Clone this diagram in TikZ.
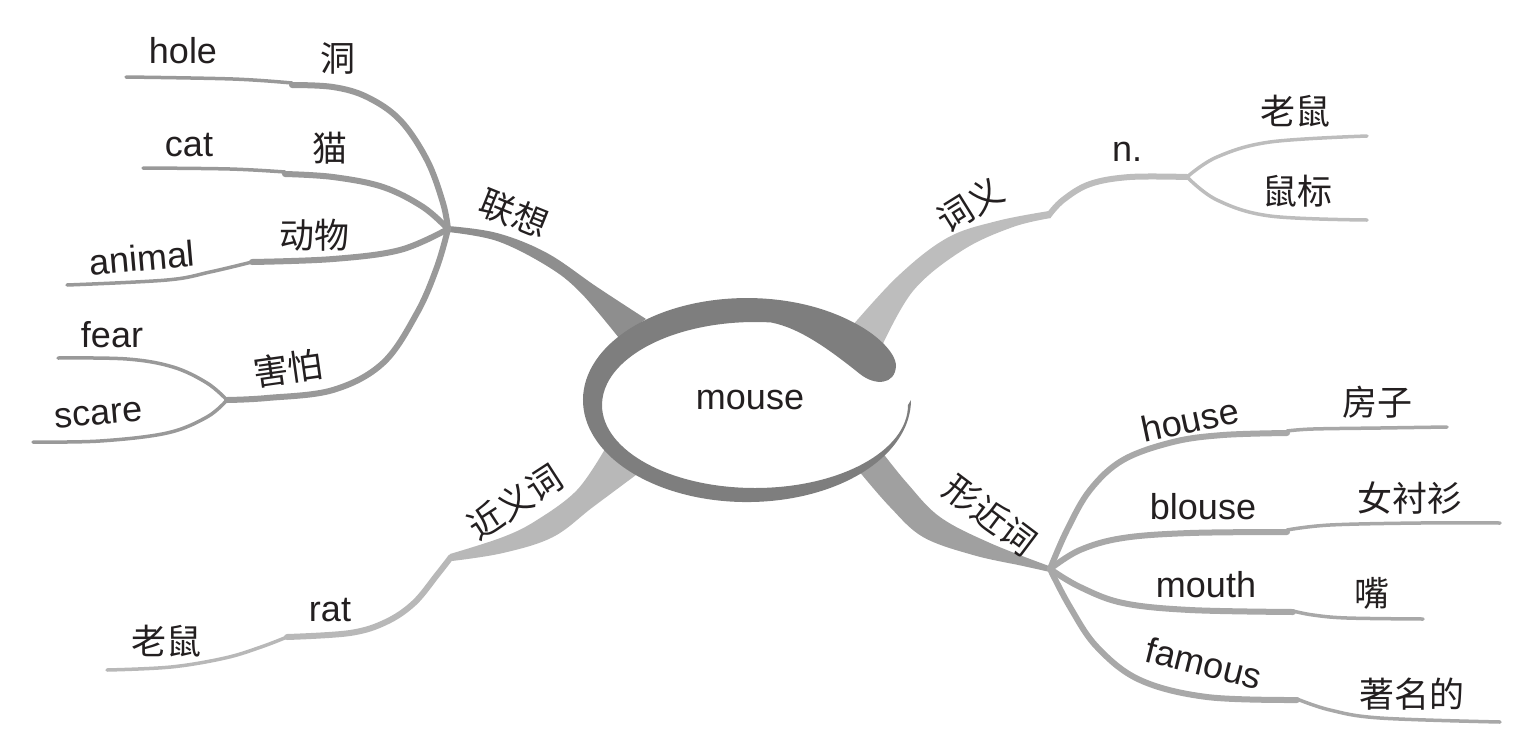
\documentclass[tikz,border=0pt]{standalone}
\usepackage{fontspec}
\setmainfont{Liberation Sans}
\newfontfamily\cjk{Noto Sans CJK SC}
\definecolor{ink}{HTML}{231F20}
\definecolor{ringc}{HTML}{7E7E7E}
\definecolor{colL}{HTML}{8E8E8E}
\definecolor{colLt}{HTML}{999999}
\definecolor{colR}{HTML}{BDBDBD}
\definecolor{colS}{HTML}{B8B8B8}
\definecolor{colX}{HTML}{A0A0A0}
\definecolor{colXt}{HTML}{A8A8A8}
\begin{document}
\begin{tikzpicture}[x=1pt,y=-1pt,
  en/.style={font=\fontsize{36}{40}\selectfont, text=ink, inner sep=0pt},
  zh/.style={font=\cjk\fontsize{35}{40}\selectfont, text=ink, inner sep=0pt},
  twig/.style={draw=#1, line width=6pt, line cap=round, line join=round},
  twigend/.style={draw=#1, line width=3.5pt, line cap=round, line join=round},
  sm/.style={smooth, tension=0.6}]
\useasboundingbox (0,0) rectangle (1521,753);

% hubs and kinks
\coordinate (hubL) at (448,229);
\coordinate (hubF) at (227,400);
\coordinate (kinkR) at (1049,215);
\coordinate (hubN) at (1187,177);
\coordinate (kinkS) at (451,557);
\coordinate (kinkS2) at (287,637);
\coordinate (hubX) at (1050,569);

% ---------- thick main branches ----------
\fill[colL] plot[sm] coordinates {(448,226) (497,233) (547,253) (597,287) (646,319)}
  -- plot[sm] coordinates {(619,338) (580,292) (547,266) (497,241) (448,232)} -- cycle;
\fill[colR] plot[sm] coordinates {(846,333) (897,277) (947,238) (997,221) (1049,211)}
  -- plot[sm] coordinates {(1051,218) (1013,227) (963,250) (913,291) (880,350)} -- cycle;
\fill[colS] plot[sm] coordinates {(605,449) (577,490) (537,520) (503,537) (450,554)}
  -- plot[sm] coordinates {(452,561) (503,553) (553,537) (593,507) (640,472)} -- cycle;
\fill[colX] plot[sm] coordinates {(882,452) (907,483) (940,517) (990,543) (1049,566)}
  -- plot[sm] coordinates {(1050,572) (1023,566) (973,555) (923,537) (890,507) (858,470)} -- cycle;

% ---------- left (lianxiang) twigs ----------
\draw[twig=colLt] plot[sm] coordinates {(hubL) (443,203) (427,160) (400,120) (367,97) (333,87) (292,85)};
\draw[twigend=colLt] plot[sm] coordinates {(292,83) (233,79) (126,77)};
\draw[twig=colLt] plot[sm] coordinates {(hubL) (423,207) (383,187) (333,177) (285,174)};
\draw[twigend=colLt] plot[sm] coordinates {(285,172) (230,169) (143,168)};
\draw[twig=colLt] plot[sm] coordinates {(hubL) (400,250) (333,259) (252,262)};
\draw[twigend=colLt] plot[sm] coordinates {(252,262) (210,272) (167,280) (67,285)};
\draw[twig=colLt] plot[sm] coordinates {(hubL) (437,267) (417,313) (383,363) (333,390) (267,398) (hubF)};
\draw[twigend=colLt] plot[sm] coordinates {(hubF) (207,383) (173,367) (127,359) (58,358)};
\draw[twigend=colLt] plot[sm] coordinates {(hubF) (207,417) (167,433) (100,441) (33,442)};

% ---------- upper right (ciyi) ----------
\draw[twig=colR] plot[sm] coordinates {(kinkR) (1063,200) (1090,184) (1130,177) (hubN)};
\draw[twigend=colR] plot[sm] coordinates {(hubN) (1217,157) (1270,142) (1367,136)};
\draw[twigend=colR] plot[sm] coordinates {(hubN) (1217,200) (1270,216) (1367,220)};

% ---------- lower left (jinyici) ----------
\draw[twig=colS] plot[sm] coordinates {(kinkS) (437,575) (414,603) (386,622) (350,633) (kinkS2)};
\draw[twigend=colS] plot[sm] coordinates {(kinkS2) (261,647) (225,658) (171,667) (107,670)};

% ---------- lower right (xingjinci) ----------
\draw[twig=colXt] plot[sm] coordinates {(hubX) (1067,530) (1090,490) (1123,460) (1173,442) (1223,435) (1287,433)};
\draw[twigend=colXt] plot[sm] coordinates {(1287,431) (1313,429) (1380,428) (1447,427)};
\draw[twig=colXt] plot[sm] coordinates {(hubX) (1080,550) (1123,538) (1190,533) (1287,532)};
\draw[twigend=colXt] plot[sm] coordinates {(1287,530) (1330,525) (1420,523) (1500,523)};
\draw[twig=colXt] plot[sm] coordinates {(hubX) (1080,587) (1123,603) (1190,610) (1293,612)};
\draw[twigend=colXt] plot[sm] coordinates {(1293,611) (1313,615) (1347,618) (1423,619)};
\draw[twig=colXt] plot[sm] coordinates {(hubX) (1070,607) (1097,647) (1140,680) (1207,697) (1297,700)};
\draw[twigend=colXt] plot[sm] coordinates {(1297,699) (1330,710) (1380,718) (1500,722)};

% ---------- central ring ----------
\fill[ringc] (852.4,321.9) arc[start angle=-50, end angle=-360, x radius=164, y radius=102]
  -- (908,405) arc[start angle=0, end angle=276, x radius=153, y radius=83]
  .. controls (800,328) and (830,350) .. (860,374)
  .. controls (875,386) and (895,385) .. (896,366)
  .. controls (896,352) and (875,333) .. (852.4,321.9) -- cycle;

% ---------- labels ----------
\node[en] (mouse) at (750,400) {mouse};

\node[zh, rotate=-22] (lx) at (514,213) {联想};
\node[zh, rotate=32] (cy) at (970,205) {词义};
\node[zh, rotate=33] (jy) at (515,502) {近义词};
\node[zh, rotate=-37] (xj) at (990,515) {形近词};

\node[en] (hole) at (183,51) {hole};
\node[zh] (dong) at (338,58) {洞};
\node[en] (cat) at (189,145) {cat};
\node[zh] (mao) at (330,148) {猫};
\node[zh] (dw) at (314,235) {动物};
\node[en, rotate=5] (animal) at (142,258) {animal};
\node[en] (fear) at (112,335) {fear};
\node[zh, rotate=8] (hp) at (288,368) {害怕};
\node[en, rotate=5] (scare) at (99,415) {scare};

\node[en] (n) at (1127,152) {n.};
\node[zh] (ls1) at (1295,111) {老鼠};
\node[zh] (sb) at (1297,191) {鼠标};

\node[en] (rat) at (330,610) {rat};
\node[zh] (ls2) at (166,641) {老鼠};

\node[en, rotate=12] (house) at (1190,420) {house};
\node[zh] (fz) at (1377,402) {房子};
\node[en] (blouse) at (1203,507) {blouse};
\node[zh] (ncs) at (1410,498) {女衬衫};
\node[en] (mouth) at (1206,585) {mouth};
\node[zh] (zui) at (1372,593) {嘴};
\node[en, rotate=-14] (famous) at (1204,663) {famous};
\node[zh] (zmd) at (1412,694) {著名的};
\end{tikzpicture}
\end{document}
